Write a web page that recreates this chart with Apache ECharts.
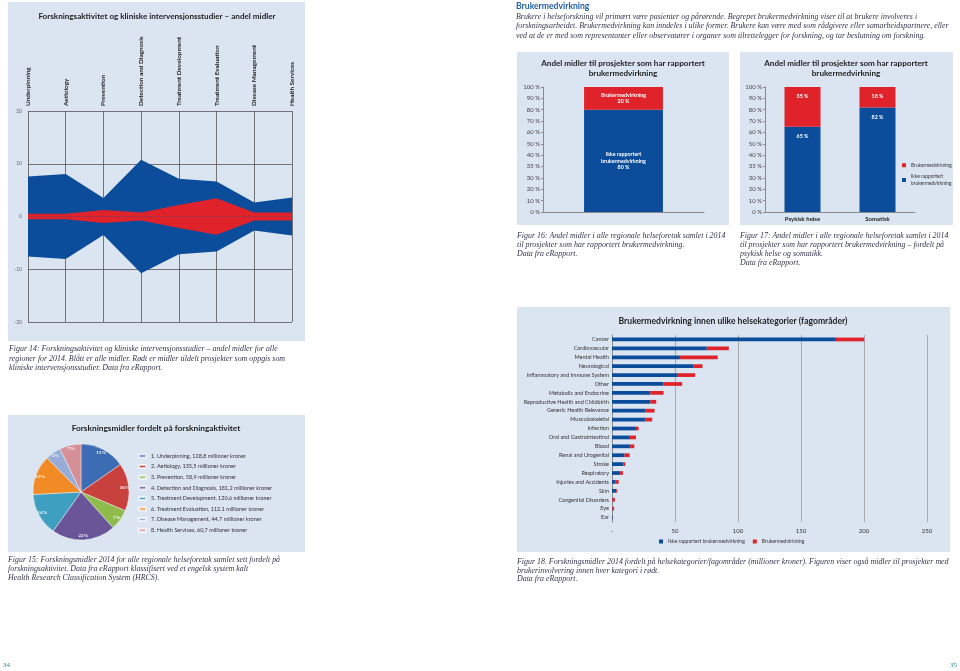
<!DOCTYPE html>
<html><head><meta charset="utf-8">
<script src="https://cdn.jsdelivr.net/npm/echarts@6/dist/echarts.min.js"></script>
<style>html,body{margin:0;padding:0;background:#fff}#c{width:960px;height:671px}</style>
</head><body><div id="c"></div>
<script>
// ---------- Figur 14 ----------
const activityCats = ['Underpinning','Aetiology','Prevention','Detection and Diagnosis','Treatment Development','Treatment Evaluation','Disease Management','Health Services'];
const allFundsHalf = [7.6, 8.05, 3.5, 10.75, 7.15, 6.65, 2.65, 3.6];
const clinicalHalf = [0.5, 0.5, 1.25, 0.75, 2.2, 3.45, 0.75, 0.75];
const fig14Min = -20, fig14Max = 20, fig14Step = 10;
// ---------- Figur 15 ----------
const pieValues = [128.8, 135.5, 58.9, 181.2, 120.6, 112.1, 44.7, 60.7];
const pieLegendLabels = ['1. Underpinning, 128,8 millioner kroner','2. Aetiology, 135,5 millioner kroner','3. Prevention, 58,9 millioner kroner','4. Detection and Diagnosis, 181,2 millioner kroner','5. Treatment Development, 120,6 millioner kroner','6. Treatment Evaluation, 112.1 millioner kroner','7. Disease Management, 44,7 millioner kroner','8. Health Services, 60,7 millioner kroner'];
const pieColors = ['#3c6cb4','#c8413c','#8fba4c','#6b5599','#3f9fc0','#f28b25','#97acd6','#d58f97'];
// ---------- Figur 16 / 17 ----------
const pctTickValues = [0, 10, 20, 30, 35, 40, 50, 60, 70, 80, 90, 100];
const pctTickLabels = ['0 %','10 %','20 %','30 %','35 %','40 %','50 %','60 %','70 %','80 %','90 %','100 %'];
const fig16NotReported = [80];
const fig16Reported = [20];
const fig17Cats = ['Psykisk helse','Somatisk'];
const fig17NotReported = [65, 82];
const fig17Reported = [35, 18];
// ---------- Figur 18 ----------
const healthCats = ['Cancer','Cardiovascular','Mental Health','Neurological','Inflammatory and Immune System','Other','Metabolic and Endocrine','Reproductive Health and Childbirth','Generic Health Relevance','Musculoskeletal','Infection','Oral and Gastrointestinal','Blood','Renal and Urogenital','Stroke','Respiratory','Injuries and Accidents','Skin','Congenital Disorders','Eye','Ear'];
const healthNotReported = [177.7, 75.2, 53.9, 64.4, 52.3, 40.9, 30.4, 30.4, 26.7, 26.7, 19.0, 13.5, 14.5, 10.0, 9.2, 6.3, 2.9, 3.4, 0.3, 0.3, 0.5];
const healthReported = [22.4, 17.5, 30.0, 7.4, 13.7, 14.8, 10.5, 4.7, 7.1, 5.2, 2.1, 5.5, 3.2, 4.0, 1.4, 2.4, 2.4, 0.8, 2.0, 1.4, 0.1];
const fig18Max = 250, fig18Step = 50;

const BLUE = '#0b4d9a', RED = '#e0232b', PANEL = '#dbe5f1';
const SANS = 'Lato, "Noto Sans", sans-serif';
const SERIF = '"Liberation Serif", "DejaVu Serif", serif';
const CAP = '#34364e';

// map a percentage onto the (irregular) tick positions of fig 16/17
function pctPos(v){
  for (let i = 0; i < pctTickValues.length - 1; i++){
    const a = pctTickValues[i], b = pctTickValues[i+1];
    if (v >= a && v <= b) return i + (v - a) / (b - a);
  }
  return pctTickValues.length - 1;
}
const NOT = 'Ikke rapportert brukermedvirkning', REP = 'Brukermedvirkning';

function txt(x, y, text, opt){
  opt = opt || {};
  return { type:'text', x:x, y:y, z:10, scaleX: opt.sx || 1,
    style:{ text:text, fill:opt.fill || '#222', align:opt.align || 'left', verticalAlign:'middle',
      font:(opt.italic ? 'italic ' : '') + (opt.bold ? 'bold ' : '') + (opt.size || 8) + 'px ' + (opt.family || SANS) } };
}
function rect(x, y, w, h){ return { type:'rect', z:-10, shape:{x:x,y:y,width:w,height:h}, style:{fill:PANEL} }; }

const capOpt = {italic:true, family:SERIF, size:8.5, fill:CAP, sx:0.93};
const graphics = [
  rect(8, 2, 297, 339), rect(8, 415, 297, 137), rect(517, 52, 212, 173), rect(740, 52, 213, 173), rect(517, 307, 433, 245),
  txt(157, 16, 'Forskningsaktivitet og kliniske intervensjonsstudier – andel midler', {bold:true, size:8.1, align:'center'}),
  txt(156, 428, 'Forskningsmidler fordelt på forskningaktivitet', {bold:true, size:8.3, align:'center'}),
  txt(623, 63, 'Andel midler til prosjekter som har rapportert', {bold:true, size:8.1, align:'center'}),
  txt(623, 73, 'brukermedvirkning', {bold:true, size:8.1, align:'center'}),
  txt(846, 63, 'Andel midler til prosjekter som har rapportert', {bold:true, size:8.1, align:'center'}),
  txt(846, 73, 'brukermedvirkning', {bold:true, size:8.1, align:'center'}),
  txt(733, 321, 'Brukermedvirkning innen ulike helsekategorier (fagområder)', {bold:true, size:8.6, align:'center'}),
  // captions
  txt(9, 349, 'Figur 14: Forskningsaktivitet og kliniske intervensjonsstudier – andel midler for alle', capOpt),
  txt(9, 358.5, 'regioner for 2014. Blått er alle midler. Rødt er midler tildelt prosjekter som oppgis som', capOpt),
  txt(9, 368, 'kliniske intervensjonsstudier. Data fra eRapport.', capOpt),
  txt(8, 560, 'Figur 15: Forskningsmidler 2014 for alle regionale helseforetak samlet sett fordelt på', capOpt),
  txt(8, 569, 'forskningsaktivitet. Data fra eRapport klassifisert ved et engelsk system kalt', capOpt),
  txt(8, 578, 'Health Research Classification System (HRCS).', capOpt),
  txt(516, 6, 'Brukermedvirkning', {bold:true, size:8.6, fill:'#2160a8'}),
  txt(516, 16.5, 'Brukere i helseforskning vil primært være pasienter og pårørende. Begrepet brukermedvirkning viser til at brukere involveres i', capOpt),
  txt(516, 26, 'forskningsarbeidet. Brukermedvirkning kan inndeles i ulike former. Brukere kan være med som rådgivere eller samarbeidspartnere, eller', capOpt),
  txt(516, 35.5, 'ved at de er med som representanter eller observatører i organer som tilrettelegger for forskning, og tar beslutning om forskning.', capOpt),
  txt(517, 236, 'Figur 16: Andel midler i alle regionale helseforetak samlet i 2014', capOpt),
  txt(517, 245, 'til prosjekter som har rapportert brukermedvirkning.', capOpt),
  txt(517, 254, 'Data fra eRapport.', capOpt),
  txt(740, 236, 'Figur 17: Andel midler i alle regionale helseforetak samlet i 2014', capOpt),
  txt(740, 245, 'til prosjekter som har rapportert brukermedvirkning – fordelt på', capOpt),
  txt(740, 254, 'psykisk helse og somatikk.', capOpt),
  txt(740, 263, 'Data fra eRapport.', capOpt),
  txt(517, 562, 'Figur 18. Forskningsmidler 2014 fordelt på helsekategorier/fagområder (millioner kroner). Figuren viser også midler til prosjekter med', capOpt),
  txt(517, 570.5, 'brukerinvolvering innen hver kategori i rødt.', capOpt),
  txt(517, 579, 'Data fra eRapport.', capOpt),
  txt(3, 665, '34', {family:SERIF, size:7, fill:'#2a8a8a'}),
  txt(957, 665, '35', {family:SERIF, size:7, fill:'#2a8a8a', align:'right'})
];

const areaSeries = (name, data, color, sign) => ({
  type:'line', name:name, xAxisIndex:0, yAxisIndex:0, data:data.map(v => sign * v),
  symbol:'none', lineStyle:{width:0}, areaStyle:{color:color, opacity:1, origin:0}, silent:true, z: color === RED ? 3 : 2
});

const pieData = pieValues.map((v, i) => ({ name: pieLegendLabels[i], value: v, itemStyle:{color:pieColors[i]} }));

const barLbl = (size) => ({ show:true, color:'#fff', fontSize:size, fontFamily:SANS, fontWeight:'bold', lineHeight:size + 1.5 });

const option = {
  animation:false,
  graphic: graphics,
  grid:[
    {left:28, top:111, width:264, height:211},
    {left:543, top:87, width:161, height:125},
    {left:765, top:87, width:150, height:125},
    {left:612, top:335, width:315, height:187}
  ],
  xAxis:[
    {gridIndex:0, type:'category', data:activityCats, boundaryGap:false, position:'top',
      axisLine:{show:false}, axisTick:{show:false},
      axisLabel:{rotate:90, interval:0, fontSize:6.4, fontWeight:'bold', color:'#222', fontFamily:SANS, margin:5},
      splitLine:{show:true, interval:0, lineStyle:{color:'#555', width:0.8}}},
    {gridIndex:1, type:'category', data:[''], axisLine:{lineStyle:{color:'#8a8a8a'}}, axisTick:{show:false}, axisLabel:{show:false}},
    {gridIndex:2, type:'category', data:fig17Cats, axisLine:{lineStyle:{color:'#8a8a8a'}}, axisTick:{show:false},
      axisLabel:{fontSize:6, fontWeight:'bold', color:'#222', fontFamily:SANS, margin:4}},
    {gridIndex:3, type:'value', min:0, max:fig18Max, interval:fig18Step,
      axisLine:{show:false}, axisTick:{show:false},
      axisLabel:{fontSize:6, color:'#333', fontFamily:SANS, margin:6, formatter:v => v === 0 ? '-' : String(v)},
      splitLine:{lineStyle:{color:'#9a9a9a', width:0.8}}}
  ],
  yAxis:[
    {gridIndex:0, type:'value', min:fig14Min, max:fig14Max, interval:fig14Step,
      axisLine:{show:false}, axisTick:{show:false},
      axisLabel:{fontSize:5, color:'#666', fontFamily:SANS, margin:6},
      splitLine:{lineStyle:{color:'#555', width:0.8}}},
    {gridIndex:1, type:'value', min:0, max:pctTickValues.length - 1, interval:1,
      axisLine:{show:true, lineStyle:{color:'#8a8a8a'}}, axisTick:{show:true, length:2, lineStyle:{color:'#8a8a8a'}},
      axisLabel:{fontSize:6, color:'#444', fontFamily:SANS, margin:3, formatter:v => pctTickLabels[v]}, splitLine:{show:false}},
    {gridIndex:2, type:'value', min:0, max:pctTickValues.length - 1, interval:1,
      axisLine:{show:true, lineStyle:{color:'#8a8a8a'}}, axisTick:{show:true, length:2, lineStyle:{color:'#8a8a8a'}},
      axisLabel:{fontSize:6, color:'#444', fontFamily:SANS, margin:3, formatter:v => pctTickLabels[v]}, splitLine:{show:false}},
    {gridIndex:3, type:'category', data:healthCats, inverse:true,
      axisLine:{lineStyle:{color:'#8a8a8a'}}, axisTick:{show:false},
      axisLabel:{fontSize:5.5, color:'#333', fontFamily:SANS, margin:3, interval:0}}
  ],
  legend:[
    {data:pieLegendLabels, orient:'vertical', left:138, top:452, padding:0, itemWidth:7, itemHeight:3, itemGap:2.6, icon:'rect',
      textStyle:{fontSize:5.5, color:'#333', fontFamily:SANS, lineHeight:8}, selectedMode:false},
    {data:[REP, NOT], orient:'vertical', left:902, top:162, padding:0, itemWidth:4, itemHeight:4, itemGap:5, icon:'rect',
      formatter:n => n === NOT ? 'Ikke rapportert\nbrukermedvirkning' : n,
      textStyle:{fontSize:4.9, color:'#333', fontFamily:SANS, lineHeight:6.5}, selectedMode:false},
    {data:[NOT, REP], orient:'horizontal', left:659, top:539, padding:0, itemWidth:4, itemHeight:4, itemGap:8, icon:'rect',
      textStyle:{fontSize:5.1, color:'#333', fontFamily:SANS}, selectedMode:false}
  ],
  series:[
    areaSeries('alle+', allFundsHalf, BLUE, 1),
    areaSeries('alle-', allFundsHalf, BLUE, -1),
    areaSeries('klin+', clinicalHalf, RED, 1),
    areaSeries('klin-', clinicalHalf, RED, -1),
    {type:'pie', center:[81, 492], radius:[0, 48], startAngle:90, data:pieData, label:{show:false}, labelLine:{show:false},
      itemStyle:{borderColor:'rgba(255,255,255,0.7)', borderWidth:0.6}, silent:true},
    {type:'pie', center:[81, 492], radius:[34, 48], startAngle:90, data:pieData.map(d => ({name:d.name, value:d.value})),
      itemStyle:{color:'rgba(0,0,0,0)'}, silent:true, z:5,
      label:{show:true, position:'inside', color:'#fff', fontSize:5, fontWeight:'bold', fontFamily:SERIF,
        formatter:p => Math.round(p.percent) + '%'}, labelLine:{show:false}},
    {type:'bar', name:NOT, xAxisIndex:1, yAxisIndex:1, stack:'f16', barWidth:'49%', itemStyle:{color:BLUE},
      data:fig16NotReported.map(v => pctPos(v)),
      label:Object.assign(barLbl(5.3), {position:'inside', formatter:p => 'Ikke rapportert\nbrukermedvirkning\n' + fig16NotReported[p.dataIndex] + ' %'})},
    {type:'bar', name:REP, xAxisIndex:1, yAxisIndex:1, stack:'f16', itemStyle:{color:RED},
      data:fig16Reported.map((v, i) => pctPos(fig16NotReported[i] + v) - pctPos(fig16NotReported[i])),
      label:Object.assign(barLbl(5.3), {position:'inside', formatter:p => 'Brukermedvirkning\n' + fig16Reported[p.dataIndex] + ' %'})},
    {type:'bar', name:NOT, xAxisIndex:2, yAxisIndex:2, stack:'f17', barWidth:'48%', itemStyle:{color:BLUE},
      data:fig17NotReported.map(v => pctPos(v)),
      label:Object.assign(barLbl(5.3), {position:'insideTop', distance:6, formatter:p => fig17NotReported[p.dataIndex] + ' %'})},
    {type:'bar', name:REP, xAxisIndex:2, yAxisIndex:2, stack:'f17', itemStyle:{color:RED},
      data:fig17Reported.map((v, i) => pctPos(fig17NotReported[i] + v) - pctPos(fig17NotReported[i])),
      label:Object.assign(barLbl(5.3), {position:'insideTop', distance:6, formatter:p => fig17Reported[p.dataIndex] + ' %'})},
    {type:'bar', name:NOT, xAxisIndex:3, yAxisIndex:3, stack:'f18', barWidth:'42%', itemStyle:{color:BLUE}, data:healthNotReported},
    {type:'bar', name:REP, xAxisIndex:3, yAxisIndex:3, stack:'f18', itemStyle:{color:RED}, data:healthReported}
  ]
};
const chart = echarts.init(document.getElementById('c'), null, {renderer:'canvas'});
chart.setOption(option);
</script>
</body></html>
